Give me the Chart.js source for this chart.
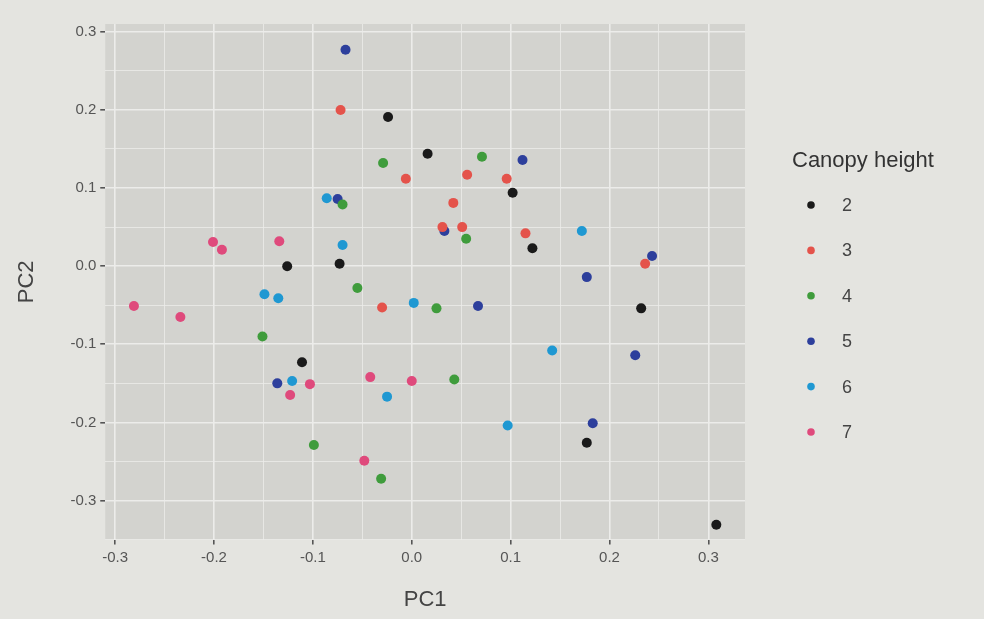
<!DOCTYPE html>
<html>
<head>
<meta charset="utf-8">
<script src="https://cdn.jsdelivr.net/npm/chart.js@4/dist/chart.umd.min.js"></script>
<style>
html,body{margin:0;padding:0;background:#e4e4e0;}
#wrap{width:984px;height:619px;position:relative;}
</style>
</head>
<body>
<div id="wrap"><canvas id="c" width="984" height="619"></canvas></div>
<script>
const groups = ["2","3","4","5","6","7"];
const colors = ["#1a1a1a","#e4534b","#3f9c3c","#2d3f9c","#1f98d2","#df4a7c"];
const legendTitle = "Canopy height";
const xTickLabels = ["-0.3","-0.2","-0.1","0.0","0.1","0.2","0.3"];
const yTickLabels = ["-0.3","-0.2","-0.1","0.0","0.1","0.2","0.3"];

const pc1_2 = [-0.024, 0.016, 0.102, 0.122, -0.126, -0.073, -0.111, 0.232, 0.177, 0.308];
const pc2_2 = [ 0.191, 0.144, 0.094, 0.023,  0.000,  0.003, -0.123, -0.054, -0.226, -0.331];
const pc1_3 = [-0.072, -0.006, 0.056, 0.042, 0.031, 0.051, 0.096, 0.115, 0.236, -0.030];
const pc2_3 = [ 0.200,  0.112, 0.117, 0.081, 0.050, 0.050, 0.112, 0.042, 0.003, -0.053];
const pc1_4 = [-0.029, 0.071, -0.070, 0.055, -0.055, 0.025, -0.151, 0.043, -0.099, -0.031];
const pc2_4 = [ 0.132, 0.140,  0.079, 0.035, -0.028, -0.054, -0.090, -0.145, -0.229, -0.272];
const pc1_5 = [-0.067, 0.112, -0.075, 0.033, 0.243, 0.177, 0.067, -0.136, 0.226, 0.183];
const pc2_5 = [ 0.277, 0.136,  0.086, 0.045, 0.013, -0.014, -0.051, -0.150, -0.114, -0.201];
const pc1_6 = [-0.086, -0.070, 0.172, -0.149, -0.135, 0.002, 0.142, -0.121, -0.025, 0.097];
const pc2_6 = [ 0.087,  0.027, 0.045, -0.036, -0.041, -0.047, -0.108, -0.147, -0.167, -0.204];
const pc1_7 = [-0.201, -0.192, -0.134, -0.281, -0.234, -0.123, -0.103, -0.042, 0.000, -0.048];
const pc2_7 = [ 0.031,  0.021,  0.032, -0.051, -0.065, -0.165, -0.151, -0.142, -0.147, -0.249];

const xs = [pc1_2, pc1_3, pc1_4, pc1_5, pc1_6, pc1_7];
const ys = [pc2_2, pc2_3, pc2_4, pc2_5, pc2_6, pc2_7];

const datasets = groups.map((g, i) => ({
  label: g,
  data: xs[i].map((x, j) => ({x: x, y: ys[i][j]})),
  backgroundColor: colors[i],
  borderColor: colors[i],
  pointRadius: 5,
  pointHoverRadius: 5,
  borderWidth: 0
}));

const panelBg = {
  id: 'panelBg',
  beforeDraw(chart) {
    const {ctx, chartArea: a} = chart;
    ctx.save();
    ctx.fillStyle = '#d3d3cf';
    ctx.fillRect(a.left, a.top, a.right - a.left, a.bottom - a.top);
    ctx.restore();
  }
};

const sideLegend = {
  id: 'sideLegend',
  afterDraw(chart) {
    const ctx = chart.ctx;
    const a = chart.chartArea;
    const x0 = a.right + 47;
    ctx.save();
    ctx.textBaseline = 'middle';
    ctx.textAlign = 'left';
    ctx.fillStyle = '#333';
    ctx.font = '22px "Liberation Sans"';
    ctx.fillText(legendTitle, x0, 161);
    ctx.font = '18px "Liberation Sans"';
    chart.data.datasets.forEach((ds, i) => {
      const y = 205 + i * 45.4;
      ctx.beginPath();
      ctx.fillStyle = ds.backgroundColor;
      ctx.arc(x0 + 19, y, 3.8, 0, Math.PI * 2);
      ctx.fill();
      ctx.fillStyle = '#444';
      ctx.fillText(ds.label, x0 + 50, y + 1);
    });
    ctx.restore();
  }
};

function isMajor(v) { return Math.abs(Math.round(v * 10) - v * 10) < 1e-6; }
function labelFor(v, labels) {
  if (!isMajor(v)) return '';
  const idx = Math.round(v * 10) + 3;
  return labels[idx] !== undefined ? labels[idx] : '';
}

function axis(min, max, labels, title, isX) {
  return {
    type: 'linear',
    min: min, max: max,
    afterBuildTicks(scale) {
      const t = [];
      for (let k = -7; k <= 7; k++) {
        const v = k * 0.05;
        if (v >= min - 1e-9 && v <= max + 1e-9) t.push({value: v});
      }
      scale.ticks = t;
    },
    ticks: {
      autoSkip: false,
      color: '#555',
      font: {family: 'Liberation Sans', size: 15},
      padding: 4,
      callback: (v) => labelFor(v, labels)
    },
    grid: {
      color: '#ececea',
      lineWidth: (c) => isMajor(c.tick.value) ? 1.6 : 0.8,
      tickColor: (c) => isMajor(c.tick.value) ? '#555' : 'rgba(0,0,0,0)',
      tickLength: 5,
      drawTicks: true
    },
    border: {display: false},
    title: {
      display: true,
      text: title,
      color: '#444',
      font: {family: 'Liberation Sans', size: 22},
      padding: isX ? {top: 16, bottom: 0} : {top: 0, bottom: 26}
    }
  };
}

new Chart(document.getElementById('c'), {
  type: 'scatter',
  data: {datasets: datasets},
  options: {
    responsive: false,
    animation: false,
    layout: {padding: {left: 14, right: 239, top: 24, bottom: 6}},
    scales: {
      x: axis(-0.31, 0.337, xTickLabels, 'PC1', true),
      y: axis(-0.35, 0.31, yTickLabels, 'PC2', false)
    },
    plugins: {
      tooltip: {enabled: false},
      legend: {display: false}
    }
  },
  plugins: [panelBg, sideLegend]
});
</script>
</body>
</html>
